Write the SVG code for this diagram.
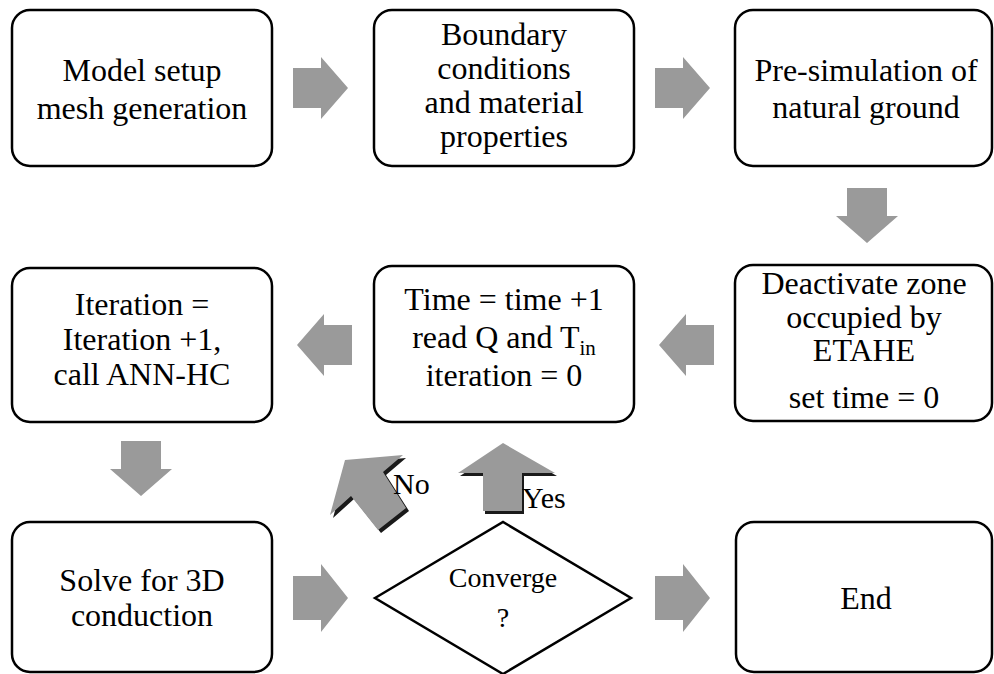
<svg xmlns="http://www.w3.org/2000/svg" width="994" height="674" viewBox="0 0 994 674">
  <style>
    .box { fill: #ffffff; stroke: #000000; stroke-width: 2.5; }
    .lbl { font-family: 'Liberation Serif', 'DejaVu Serif', serif; font-size: 32px; fill: #000000; text-anchor: middle; }
    .small { font-size: 28px; }
    .tag { font-family: 'Liberation Serif', 'DejaVu Serif', serif; font-size: 30px; fill: #000000; }
    .arrow { fill: #9a9a9a; }
    .shade { fill: #1a1a1a; }
  </style>
  <defs>
    <!-- block arrow pointing right, origin at the middle of the tail -->
    <polygon id="blk" points="0,-20 28,-20 28,-31 55,0 28,31 28,20 0,20"/>
  </defs>

  <rect width="994" height="674" fill="#ffffff"/>

  <!-- connectors -->
  <g id="connectors">
    <use href="#blk" class="arrow" transform="translate(293,88)"/>
    <use href="#blk" class="arrow" transform="translate(655,88)"/>
    <use href="#blk" class="arrow" transform="translate(867,188) rotate(90)"/>
    <use href="#blk" class="arrow" transform="translate(714,345) rotate(180)"/>
    <use href="#blk" class="arrow" transform="translate(352,345) rotate(180)"/>
    <use href="#blk" class="arrow" transform="translate(141,441) rotate(90)"/>
    <use href="#blk" class="arrow" transform="translate(293,598) scale(1,1.1)"/>
    <use href="#blk" class="arrow" transform="translate(655,598) scale(1,1.1)"/>

    <!-- "No" branch: arrow pointing up-left -->
    <g id="no-arrow">
      <polygon class="shade" points="348,463 406,458 386,475 409,511 381,533 354,499 333,518"/>
      <polygon class="arrow" points="345,460 403,455 383,472 406,508 378,530 351,496 330,515"/>
      <text class="tag" x="393" y="494">No</text>
    </g>
    <!-- "Yes" branch: arrow pointing up -->
    <g id="yes-arrow">
      <polygon class="shade" points="505,446 557,476 524,476 524,514 485,514 485,476 460,476"/>
      <polygon class="arrow" points="503,443 555,473 522,473 522,511 483,511 483,473 458,473"/>
      <text class="tag" x="522" y="508">Yes</text>
    </g>
  </g>

  <!-- top row -->
  <g id="model-setup">
    <rect class="box" x="12" y="10" width="260" height="156" rx="18"/>
    <text class="lbl" x="142" y="81">Model setup</text>
    <text class="lbl" x="142" y="119">mesh generation</text>
  </g>
  <g id="boundary">
    <rect class="box" x="374" y="10" width="260" height="156" rx="18"/>
    <text class="lbl" x="504" y="45">Boundary</text>
    <text class="lbl" x="504" y="79">conditions</text>
    <text class="lbl" x="504" y="113">and material</text>
    <text class="lbl" x="504" y="147">properties</text>
  </g>
  <g id="presimulation">
    <rect class="box" x="735" y="10" width="257" height="156" rx="18"/>
    <text class="lbl" x="866" y="81">Pre-simulation of</text>
    <text class="lbl" x="866" y="118">natural ground</text>
  </g>

  <!-- middle row -->
  <g id="iteration">
    <rect class="box" x="12" y="268" width="260" height="154" rx="18"/>
    <text class="lbl" x="142" y="315">Iteration =</text>
    <text class="lbl" x="142" y="350">Iteration +1,</text>
    <text class="lbl" x="142" y="385">call ANN-HC</text>
  </g>
  <g id="time-step">
    <rect class="box" x="374" y="266" width="260" height="156" rx="18"/>
    <text class="lbl" x="504" y="310">Time = time +1</text>
    <text class="lbl" x="504" y="348">read Q and T<tspan font-size="21" dy="7">in</tspan></text>
    <text class="lbl" x="504" y="386">iteration = 0</text>
  </g>
  <g id="deactivate">
    <rect class="box" x="735" y="265" width="257" height="156" rx="18"/>
    <text class="lbl" x="864" y="294">Deactivate zone</text>
    <text class="lbl" x="864" y="328">occupied by</text>
    <text class="lbl" x="864" y="361">ETAHE</text>
    <text class="lbl" x="864" y="408">set time = 0</text>
  </g>

  <!-- bottom row -->
  <g id="solve">
    <rect class="box" x="12" y="522" width="260" height="150" rx="18"/>
    <text class="lbl" x="142" y="591">Solve for 3D</text>
    <text class="lbl" x="142" y="626">conduction</text>
  </g>
  <g id="converge">
    <polygon class="box" points="375,598 503,522 631,598 503,674"/>
    <text class="lbl small" x="503" y="587">Converge</text>
    <text class="lbl small" x="503" y="627">?</text>
  </g>
  <g id="end">
    <rect class="box" x="736" y="522" width="256" height="150" rx="18"/>
    <text class="lbl" x="866" y="609">End</text>
  </g>
</svg>
